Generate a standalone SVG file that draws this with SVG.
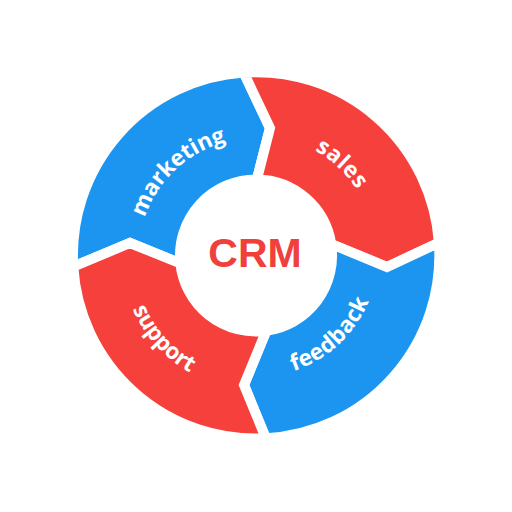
<svg xmlns="http://www.w3.org/2000/svg" xmlns:xlink="http://www.w3.org/1999/xlink" width="512" height="512" viewBox="0 0 512 512">
<style>
.seg{stroke:#ffffff;stroke-width:10;stroke-linejoin:miter;stroke-miterlimit:10}
.blue{fill:#1c95f1}
.red{fill:#f6403b}
.lbl{fill:#ffffff;font-family:"Open Sans","DejaVu Sans",sans-serif;font-weight:700;font-size:22.5px}
.crm{fill:#f0403c;font-family:"Liberation Sans",Arial,sans-serif;font-weight:700;font-size:41px}
</style>
<defs>
<path id="p-marketing" d="M 141.5 281.9 A 117.5 117.5 0 0 1 290.4 143.1"/>
<path id="p-sales" d="M 220.8 140.3 A 120.5 120.5 0 0 1 373.4 282.6"/>
<path id="p-feedback" d="M 220.5 371.7 A 121.5 121.5 0 0 0 374.4 228.2"/>
<path id="p-support" d="M 128.1 213.9 A 134.5 134.5 0 0 0 284.0 387.1"/>
</defs>
<rect width="512" height="512" fill="#ffffff"/>
<g id="connectors"></g>
<g id="node-marketing">
<path class="seg blue" d="M 180.4 263.4 L 130 243 L 73.3 266.6 A 183 183 0 0 1 243.7 72.6 L 270 128 L 256.9 179.5 A 76 76 0 0 0 180.4 263.4 Z"/>
</g>
<g id="node-sales">
<path class="seg red" d="M 256.9 179.5 L 270 128 L 243.7 72.6 A 183 183 0 0 1 438.9 242.7 L 387 267 L 331.2 244 A 76 76 0 0 0 256.9 179.5 Z"/>
</g>
<g id="node-feedback">
<path class="seg blue" d="M 331.2 244 L 387 267 L 438.9 242.7 A 183 183 0 0 1 265.9 438.3 L 244 385 L 266.3 330.8 A 76 76 0 0 0 331.2 244 Z"/>
</g>
<g id="node-support">
<path class="seg red" d="M 266.3 330.8 L 244 385 L 265.9 438.3 A 183 183 0 0 1 73.3 266.6 L 130 243 L 180.4 263.4 A 76 76 0 0 0 266.3 330.8 Z"/>
</g>
<g id="labels">
<text class="lbl"><textPath href="#p-marketing" xlink:href="#p-marketing" startOffset="50%" text-anchor="middle" textLength="116" lengthAdjust="spacing">marketing</textPath></text>
<text class="lbl"><textPath href="#p-sales" xlink:href="#p-sales" startOffset="50%" text-anchor="middle" textLength="58" lengthAdjust="spacing">sales</textPath></text>
<text class="lbl"><textPath href="#p-feedback" xlink:href="#p-feedback" startOffset="50%" text-anchor="middle" textLength="106" lengthAdjust="spacing">feedback</textPath></text>
<text class="lbl"><textPath href="#p-support" xlink:href="#p-support" startOffset="50%" text-anchor="middle" textLength="87" lengthAdjust="spacing">support</textPath></text>
</g>
<g id="node-crm">
<text class="crm" x="255" y="267" text-anchor="middle">CRM</text>
</g>
</svg>
